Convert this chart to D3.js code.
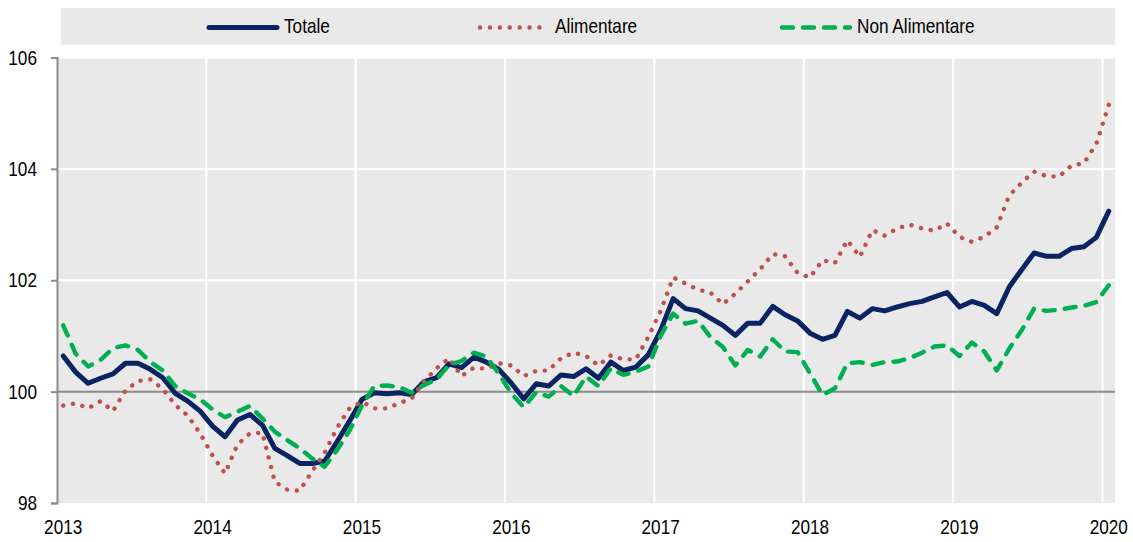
<!DOCTYPE html>
<html>
<head>
<meta charset="utf-8">
<script src="https://cdn.jsdelivr.net/npm/d3@7"></script>
<style>
  html, body { margin: 0; padding: 0; background: #ffffff; }
  svg { display: block; font-family: "Liberation Sans", Arial, sans-serif; }
</style>
</head>
<body>
<svg id="chart" width="1133" height="542"></svg>
<script>
// ---- data ----
const years = [2013, 2014, 2015, 2016, 2017, 2018, 2019, 2020];
const yTicks = [98, 100, 102, 104, 106];
const seriesNames = ["Totale", "Alimentare", "Non Alimentare"];

const totale = [
  100.64, 100.35, 100.15, 100.24, 100.32, 100.51, 100.51, 100.40, 100.25, 99.97, 99.83, 99.65,
  99.38, 99.19, 99.49, 99.59, 99.40, 98.98, 98.85, 98.71, 98.71, 98.75, 99.10, 99.47,
  99.86, 99.98, 99.96, 99.98, 99.95, 100.18, 100.25, 100.50, 100.43, 100.62, 100.53, 100.40,
  100.15, 99.87, 100.14, 100.10, 100.30, 100.27, 100.41, 100.24, 100.53, 100.38, 100.44, 100.66,
  101.10, 101.67, 101.49, 101.45, 101.32, 101.19, 101.01, 101.23, 101.23, 101.53, 101.38, 101.27,
  101.05, 100.94, 101.01, 101.44, 101.32, 101.49, 101.45, 101.52, 101.58, 101.62, 101.70, 101.78,
  101.52, 101.62, 101.55, 101.40, 101.88, 102.19, 102.49, 102.43, 102.43, 102.57, 102.60, 102.77,
  103.24
];
const alimentare = [
  99.75, 99.79, 99.70, 99.83, 99.65, 100.02, 100.19, 100.22, 100.05, 99.76, 99.57, 99.25,
  98.85, 98.53, 99.05, 99.25, 99.26, 98.38, 98.24, 98.22, 98.57, 98.90, 99.35, 99.70,
  99.82, 99.70, 99.70, 99.79, 99.88, 100.19, 100.42, 100.60, 100.28, 100.43, 100.41, 100.51,
  100.47, 100.28, 100.37, 100.38, 100.60, 100.70, 100.64, 100.47, 100.65, 100.58, 100.58, 100.98,
  101.45, 102.05, 101.94, 101.83, 101.78, 101.57, 101.76, 101.98, 102.20, 102.47, 102.43, 102.13,
  102.05, 102.36, 102.31, 102.72, 102.42, 102.90, 102.80, 102.93, 103.00, 102.93, 102.89, 103.02,
  102.78, 102.69, 102.78, 102.95, 103.52, 103.75, 103.95, 103.87, 103.86, 104.06, 104.10, 104.45,
  105.15
];
const nonAlimentare = [
  101.19, 100.68, 100.45, 100.57, 100.78, 100.83, 100.75, 100.53, 100.38, 100.10, 99.97, 99.86,
  99.68, 99.54, 99.64, 99.74, 99.52, 99.28, 99.13, 98.98, 98.80, 98.65, 98.95, 99.30,
  99.75, 100.10, 100.11, 100.08, 99.98, 100.12, 100.22, 100.48, 100.55, 100.70, 100.63, 100.32,
  99.97, 99.72, 99.99, 99.91, 100.10, 99.92, 100.27, 100.10, 100.42, 100.30, 100.36, 100.45,
  101.00, 101.40, 101.22, 101.27, 100.98, 100.80, 100.47, 100.75, 100.63, 100.94, 100.72, 100.71,
  100.33, 99.94, 100.06, 100.51, 100.53, 100.48, 100.53, 100.54, 100.60, 100.70, 100.81, 100.83,
  100.64, 100.88, 100.72, 100.38, 100.77, 101.10, 101.49, 101.45, 101.47, 101.51, 101.54, 101.61,
  101.91
];

// month categories Jan 2013 .. Jan 2020
const months = [];
years.forEach(yr => {
  for (let m = 1; m <= 12; m++) {
    if (yr === years[years.length - 1] && m > 1) break;
    months.push(yr + "-" + String(m).padStart(2, "0"));
  }
});

const series = [
  { name: seriesNames[0], values: totale, color: "#0a2463", width: 5, dash: null, period: 0, on: 0 },
  { name: seriesNames[1], values: alimentare, color: "#c0504d", width: 4.4, dash: "0.1 9.8", period: 9.9, on: 0.1 },
  { name: seriesNames[2], values: nonAlimentare, color: "#00b050", width: 4.4, dash: "11 10", period: 21, on: 11 }
];

// ---- layout ----
const svg = d3.select("#chart");
const pLeft = 57, pRight = 1115, pTop = 57.5, pBottom = 503;
const FS = 20, SX = 0.86;   // condensed look (Arial Narrow-like)

const x = d3.scaleBand().domain(months).range([pLeft, pRight]).paddingInner(0).paddingOuter(0);
const y = d3.scaleLinear().domain([98, 106]).range([pBottom, pTop]);

function label(parent, tx, ty, str, anchor) {
  return parent.append("text")
    .attr("transform", `translate(${tx},${ty}) scale(${SX},1)`)
    .attr("x", 0).attr("y", 0)
    .attr("text-anchor", anchor || "start")
    .attr("font-size", FS).attr("fill", "#000")
    .text(str);
}

// legend box
const legend = svg.append("g");
legend.append("rect").attr("x", 61).attr("y", 8).attr("width", 1054).attr("height", 37).attr("fill", "#e9e9e9");
const legendPos = [207, 478, 780];
series.forEach((s, i) => {
  const lx = legendPos[i];
  legend.append("line")
    .attr("x1", lx + 2).attr("x2", lx + 70).attr("y1", 27.5).attr("y2", 27.5)
    .attr("stroke", s.color).attr("stroke-width", s.width)
    .attr("stroke-linecap", "round")
    .attr("stroke-dasharray", s.dash);
  label(legend, lx + 77, 32.5, s.name, "start");
});

// plot background
svg.append("rect").attr("x", pLeft).attr("y", pTop).attr("width", pRight - pLeft).attr("height", pBottom - pTop).attr("fill", "#e9e9e9");

// vertical gridlines at year starts
const g = svg.append("g");
years.slice(1).forEach(yr => {
  const xx = x(yr + "-01");
  g.append("line").attr("x1", xx).attr("x2", xx).attr("y1", pTop).attr("y2", pBottom)
    .attr("stroke", "#ffffff").attr("stroke-width", 2);
});
// horizontal gridlines
yTicks.filter(v => v !== 98 && v !== 100).forEach(v => {
  g.append("line").attr("x1", pLeft).attr("x2", pRight).attr("y1", y(v)).attr("y2", y(v))
    .attr("stroke", "#ffffff").attr("stroke-width", 2);
});
// 100 reference line
g.append("line").attr("x1", pLeft).attr("x2", pRight).attr("y1", y(100)).attr("y2", y(100))
  .attr("stroke", "#8c8c8c").attr("stroke-width", 2);

// y axis (line + ticks from d3, labels drawn with condensed helper)
const yAxis = svg.append("g").attr("transform", `translate(${pLeft},0)`)
  .call(d3.axisLeft(y).tickValues(yTicks).tickSize(6).tickFormat(""));
yAxis.select(".domain").attr("stroke", "#8c8c8c").attr("stroke-width", 2);
yAxis.selectAll(".tick line").attr("stroke", "#8c8c8c").attr("stroke-width", 2);
const yLab = svg.append("g");
yTicks.forEach(v => label(yLab, 37, y(v) + 7.2, d3.format("d")(v), "end"));

// x labels
const xLab = svg.append("g");
years.forEach(yr => label(xLab, x(yr + "-01") + x.bandwidth() / 2, 534, String(yr), "middle"));

// lines
const line = d3.line()
  .x((d, i) => x(months[i]) + x.bandwidth() / 2)
  .y(d => y(d));

series.forEach(s => {
  const p = svg.append("path")
    .datum(s.values)
    .attr("d", line)
    .attr("fill", "none")
    .attr("stroke", s.color)
    .attr("stroke-width", s.width)
    .attr("stroke-linejoin", "round")
    .attr("stroke-linecap", "round");
  if (s.dash) {
    // stretch the pattern slightly so that a mark lands at the end of the line
    const L = p.node().getTotalLength();
    const n = Math.max(1, Math.round((L - s.on) / s.period));
    const per = (L - s.on) / n;
    p.attr("stroke-dasharray", `${s.on} ${per - s.on}`);
  }
});
</script>
</body>
</html>
